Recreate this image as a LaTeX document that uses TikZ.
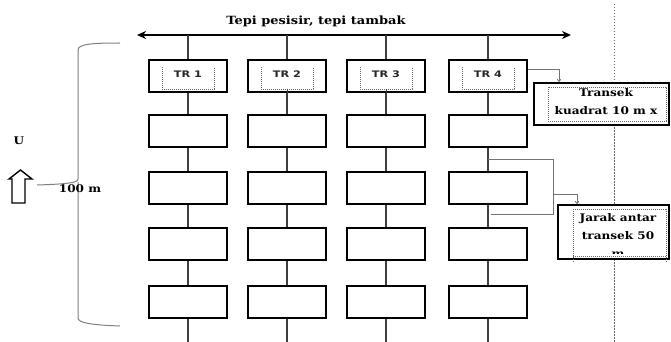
\documentclass[tikz,border=0pt]{standalone}
\usepackage{fontspec}
\usetikzlibrary{arrows.meta,calc}
\newfontfamily\lab[FakeStretch=1.15]{DejaVu Serif}
\newfontfamily\sanslab[FakeStretch=1.25]{DejaVu Sans}
\newcommand\labfont{\lab\bfseries\fontsize{10.5}{18}\selectfont}
\tikzset{
  cell/.style={draw=black, line width=1.9pt, fill=white, minimum width=78pt, minimum height=32pt, inner sep=0pt},
  vline/.style={draw=black!75, line width=1.1pt},
  conn/.style={draw=black!55, line width=0.8pt},
  innerbox/.style={draw=black!60, line width=0.5pt, dash pattern=on 1.2pt off 0.8pt},
  lbl/.style={font=\labfont, inner sep=0pt, text=black},
  trl/.style={font=\sanslab\bfseries\fontsize{9}{10}\selectfont, inner sep=0pt, text=black!85},
  brace/.style={draw=black!50, line width=1pt},
  tip/.style={-{To[length=3pt,width=4pt]}},
}
\begin{document}
\begin{tikzpicture}[x=1pt,y=-1pt]
\useasboundingbox (0,0) rectangle (671,342);
\fill[white] (0,0) rectangle (671,342);

% dashed vertical guide
\draw[black!60, line width=0.6pt, dash pattern=on 1.5pt off 1.5pt] (614,4) coordinate (d1) -- (614,342) coordinate (d2);

% top double arrow and title
\coordinate (aL) at (137,35);
\coordinate (aR) at (571,35);
\draw[line width=1.6pt, {Stealth[length=9pt,width=8pt]}-{Stealth[length=9pt,width=8pt]}] (aL) -- (aR);
\node[lbl, font=\lab\bfseries\fontsize{11.3}{13}\selectfont] (title) at (316,21) {Tepi pesisir, tepi tambak};

% columns of boxes
\foreach \c/\x in {1/188,2/287,3/386,4/488} {
  \coordinate (t\c) at (\x,35);
  \coordinate (e\c) at (\x,342);
  \foreach \r/\y in {1/76,2/131,3/188,4/244,5/302} {
    \node[cell] (b\c\r) at (\x,\y) {};
  }
  \draw[vline] (t\c) -- (b\c1.north);
  \draw[vline] (b\c1.south) -- (b\c2.north);
  \draw[vline] (b\c2.south) -- (b\c3.north);
  \draw[vline] (b\c3.south) -- (b\c4.north);
  \draw[vline] (b\c4.south) -- (b\c5.north);
  \draw[vline] (b\c5.south) -- (e\c);
  \draw[innerbox] ($(b\c1.center)+(-26,-9)$) -- ++(0,22) -- ++(52,0) -- ++(0,-22);
  \node[trl] (tr\c) at ($(b\c1.center)+(0,-2)$) {TR \c};
}
\draw[vline, line width=0.9pt] ($(b21.center)+(0,13)$) -- (b21.south);
\draw[vline, line width=0.9pt] ($(b31.center)+(0,13)$) -- (b31.south);

% Transek box
\node[cell, minimum width=135pt, minimum height=42pt] (tq) at (601.5,104) {};
\draw[innerbox] ($(tq.center)+(-53.5,-17)$) rectangle ($(tq.center)+(64.5,17)$);
\node[lbl, align=center] (tqt) at (606,102) {Transek\\kuadrat 10 m x};

% Jarak box
\node[cell, minimum width=111pt, minimum height=54pt] (jr) at (613.5,232) {};
\draw[innerbox] ($(jr.center)+(-40.5,-23)$) -- ++(0,53);
\draw[innerbox] ($(jr.center)+(52.5,-23)$) -- ++(0,53);
\draw[innerbox] ($(jr.center)+(-40.5,-23)$) -- ++(93,0);
\draw[innerbox] ($(jr.center)+(-40.5,24)$) -- ++(93,0);
\begin{scope}
  \clip (558,205) rectangle (669,253.5);
  \node[lbl, align=center, font=\labfont\fontsize{10.5}{18}\selectfont] (jrt) at (618,235.5) {Jarak antar\\transek 50\\m};
\end{scope}

% connectors
\draw[conn, tip] ($(b41.east)+(0,-7)$) -| ($(tq.north west)+(26,0)$);
\coordinate (j1) at ($(b42.south)+(0,11)$);
\draw[conn] (j1) -- ++(65,0) coordinate (j2) -- ++(0,55) coordinate (j3) -- ++(-62,0) coordinate (j4);
\draw[conn, tip] ($(j2)+(0,35)$) -| ($(jr.north west)+(20,0)$);

% left brace
\draw[brace] (120,43) .. controls (92,43) and (78,44) .. (78,50) -- (78,179)
  .. controls (78,183) and (66,184) .. (37,185);
\draw[brace] (78,182) -- (78,318) .. controls (78,323) and (92,325) .. (120,326);
\node[lbl] (hm) at (80,189) {100 m};

% north arrow
\node[lbl] (u) at (19,141) {U};
\draw[black, line width=1.4pt, line join=miter] (12,203) -- (12,179) -- (9,179) -- (20.5,170) -- (32,179) -- (25,179) -- (25,203) -- cycle;
\end{tikzpicture}
\end{document}
